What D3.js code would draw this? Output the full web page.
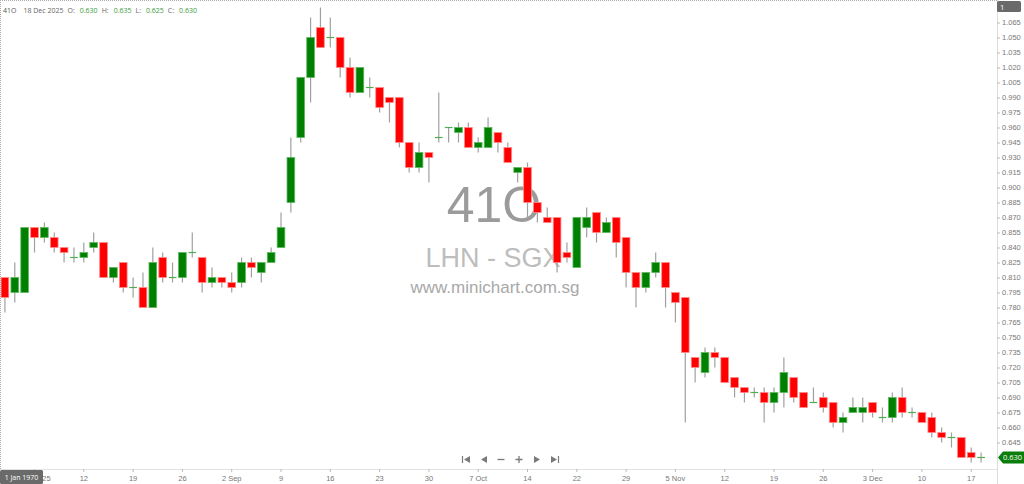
<!DOCTYPE html>
<html>
<head>
<meta charset="utf-8">
<script src="https://cdn.jsdelivr.net/npm/d3@7"></script>
<style>
  body { margin: 0; background: #fff; }
  svg { display: block; font-family: 'Open Sans', 'DejaVu Sans', sans-serif; }
  .axis text { fill: #777; font-size: 7.5px; }
  .axis line { stroke: #bbb; }
  .axis path { display: none; }
</style>
</head>
<body>
<div id="chart"></div>
<script>
// Trading days (SGX), 31 Jul 2025 - 18 Dec 2025
let dates = [
  '2025-07-31','2025-08-01','2025-08-04','2025-08-05','2025-08-06','2025-08-07','2025-08-08','2025-08-11','2025-08-12','2025-08-13',
  '2025-08-14','2025-08-15','2025-08-18','2025-08-19','2025-08-20','2025-08-21','2025-08-22','2025-08-25','2025-08-26','2025-08-27',
  '2025-08-28','2025-08-29','2025-09-01','2025-09-02','2025-09-03','2025-09-04','2025-09-05','2025-09-08','2025-09-09','2025-09-10',
  '2025-09-11','2025-09-12','2025-09-15','2025-09-16','2025-09-17','2025-09-18','2025-09-19','2025-09-22','2025-09-23','2025-09-24',
  '2025-09-25','2025-09-26','2025-09-29','2025-09-30','2025-10-01','2025-10-02','2025-10-03','2025-10-06','2025-10-07','2025-10-08',
  '2025-10-09','2025-10-10','2025-10-13','2025-10-14','2025-10-15','2025-10-16','2025-10-17','2025-10-21','2025-10-22','2025-10-23',
  '2025-10-24','2025-10-27','2025-10-28','2025-10-29','2025-10-30','2025-10-31','2025-11-03','2025-11-04','2025-11-05','2025-11-06',
  '2025-11-07','2025-11-10','2025-11-11','2025-11-12','2025-11-13','2025-11-14','2025-11-17','2025-11-18','2025-11-19','2025-11-20',
  '2025-11-21','2025-11-24','2025-11-25','2025-11-26','2025-11-27','2025-11-28','2025-12-01','2025-12-02','2025-12-03','2025-12-04',
  '2025-12-05','2025-12-08','2025-12-09','2025-12-10','2025-12-11','2025-12-12','2025-12-15','2025-12-16','2025-12-17','2025-12-18'
];

let opens = [
  0.810,0.795,0.795,0.860,0.850,0.850,0.840,0.830,0.830,0.840,
  0.845,0.810,0.825,0.800,0.800,0.780,0.830,0.810,0.810,0.835,
  0.830,0.805,0.810,0.805,0.805,0.825,0.815,0.825,0.840,0.885,
  0.950,1.010,1.060,1.050,1.050,1.020,0.995,1.000,1.000,0.990,
  0.990,0.945,0.920,0.935,0.950,0.960,0.955,0.960,0.940,0.940,
  0.955,0.940,0.915,0.920,0.885,0.870,0.870,0.835,0.820,0.860,
  0.875,0.855,0.870,0.850,0.815,0.800,0.815,0.825,0.795,0.790,
  0.730,0.715,0.735,0.730,0.710,0.700,0.695,0.695,0.685,0.695,
  0.710,0.695,0.685,0.690,0.685,0.665,0.675,0.675,0.685,0.670,
  0.670,0.690,0.675,0.675,0.670,0.655,0.650,0.650,0.635,0.630
];
let highs = [
  0.810,0.825,0.860,0.860,0.865,0.855,0.840,0.840,0.845,0.855,
  0.845,0.820,0.825,0.810,0.815,0.840,0.835,0.825,0.835,0.855,
  0.830,0.820,0.810,0.815,0.830,0.830,0.825,0.840,0.875,0.950,
  1.010,1.070,1.080,1.070,1.050,1.030,1.020,1.010,1.000,0.990,
  0.990,0.945,0.945,0.935,0.995,0.960,0.965,0.965,0.950,0.970,
  0.955,0.945,0.920,0.925,0.885,0.880,0.870,0.845,0.870,0.880,
  0.875,0.870,0.870,0.850,0.815,0.815,0.835,0.825,0.795,0.790,
  0.730,0.740,0.740,0.730,0.710,0.700,0.700,0.700,0.700,0.730,
  0.710,0.695,0.700,0.695,0.685,0.675,0.690,0.690,0.685,0.680,
  0.695,0.700,0.680,0.675,0.675,0.660,0.655,0.650,0.640,0.635
];
let lows = [
  0.775,0.785,0.795,0.835,0.845,0.835,0.825,0.825,0.825,0.835,
  0.810,0.805,0.795,0.790,0.780,0.780,0.805,0.805,0.805,0.830,
  0.795,0.800,0.800,0.795,0.800,0.810,0.805,0.825,0.840,0.875,
  0.945,0.985,1.040,1.040,1.010,0.990,0.995,0.990,0.975,0.965,
  0.940,0.915,0.915,0.905,0.945,0.945,0.945,0.940,0.935,0.940,
  0.935,0.925,0.905,0.870,0.865,0.865,0.815,0.825,0.820,0.850,
  0.845,0.855,0.830,0.800,0.780,0.795,0.810,0.780,0.765,0.665,
  0.705,0.710,0.720,0.705,0.690,0.685,0.690,0.665,0.675,0.680,
  0.685,0.680,0.685,0.675,0.660,0.655,0.675,0.665,0.670,0.665,
  0.665,0.670,0.670,0.665,0.650,0.645,0.640,0.630,0.625,0.625
];
let closes = [
  0.790,0.810,0.860,0.850,0.860,0.840,0.835,0.830,0.835,0.845,
  0.810,0.820,0.800,0.800,0.780,0.825,0.810,0.810,0.835,0.835,
  0.805,0.810,0.805,0.800,0.825,0.820,0.825,0.835,0.860,0.930,
  1.010,1.050,1.040,1.050,1.020,0.995,1.020,1.000,0.980,0.985,
  0.945,0.920,0.935,0.930,0.950,0.960,0.960,0.940,0.945,0.960,
  0.945,0.925,0.920,0.885,0.875,0.865,0.825,0.830,0.870,0.870,
  0.855,0.865,0.845,0.815,0.800,0.815,0.825,0.800,0.785,0.735,
  0.720,0.735,0.730,0.705,0.700,0.695,0.695,0.685,0.695,0.715,
  0.690,0.680,0.685,0.680,0.665,0.670,0.680,0.680,0.675,0.670,
  0.690,0.675,0.675,0.665,0.655,0.650,0.650,0.630,0.630,0.630
];

// Axis labels
let yTickLabels = ['0.645','0.660','0.675','0.690','0.705','0.720','0.735','0.750','0.765','0.780',
  '0.795','0.810','0.825','0.840','0.855','0.870','0.885','0.900','0.915','0.930',
  '0.945','0.960','0.975','0.990','1.005','1.020','1.035','1.050','1.065'];
let xTickDates = ['2025-08-05','2025-08-12','2025-08-19','2025-08-26','2025-09-02','2025-09-09','2025-09-16',
  '2025-09-23','2025-09-30','2025-10-07','2025-10-14','2025-10-22','2025-10-29','2025-11-05','2025-11-12',
  '2025-11-19','2025-11-26','2025-12-03','2025-12-10','2025-12-17'];
let xTickLabels = ['Aug 2025','12','19','26','2 Sep','9','16','23','30','7 Oct','14','22','29','5 Nov','12',
  '19','26','3 Dec','10','17'];

function createChart() {
    let width = 1024, height = 484;
    let plotRight = 997, plotBottom = 469;
    let upColor = '#008000', downColor = '#ff0000';

    let svg = d3.select('#chart')
        .append('svg')
            .attr('width', width)
            .attr('height', height);

    // Scales
    let scX = d3.scaleBand()
        .domain(dates)
        .range([0, 986])
        .paddingInner(0.22)
        .paddingOuter(0.11);
    let scY = d3.scaleLinear()
        .domain([0.6195, 1.0875])
        .range([468, 0]);

    // Watermark
    let wm = svg.append('g').attr('text-anchor', 'middle').attr('font-family', "'Liberation Sans', Arial, sans-serif");
    wm.append('text')
        .attr('x', 494).attr('y', 222)
        .attr('font-size', 50)
        .attr('fill', '#9b9b9b')
        .text('41O');
    wm.append('text')
        .attr('x', 493).attr('y', 267)
        .attr('font-size', 27)
        .attr('fill', '#bdbdbd')
        .text('LHN - SGX');
    wm.append('text')
        .attr('x', 495).attr('y', 293)
        .attr('font-size', 17)
        .attr('fill', '#a8a8a8')
        .text('www.minichart.com.sg');

    // Frame lines
    svg.append('line')
        .attr('x1', 0).attr('x2', plotRight).attr('y1', 0.5).attr('y2', 0.5)
        .attr('stroke', '#aaa').attr('stroke-dasharray', '1,1');
    svg.append('line')
        .attr('x1', 0.5).attr('x2', 0.5).attr('y1', 0).attr('y2', plotBottom)
        .attr('stroke', '#aaa').attr('stroke-dasharray', '1,1');
    svg.append('line')
        .attr('x1', plotRight + 0.5).attr('x2', plotRight + 0.5).attr('y1', 0).attr('y2', height)
        .attr('stroke', '#ddd');
    svg.append('line')
        .attr('x1', 0).attr('x2', plotRight).attr('y1', plotBottom + 0.5).attr('y2', plotBottom + 0.5)
        .attr('stroke', '#e2e2e2');

    // Axes
    let yAxis = d3.axisRight(scY)
        .tickValues(yTickLabels.map(Number))
        .tickFormat(d3.format('.3f'))
        .tickSize(3)
        .tickPadding(2);
    svg.append('g')
        .attr('class', 'axis y-axis')
        .attr('transform', `translate(${plotRight},0)`)
        .call(yAxis);

    let xAxis = d3.axisBottom(scX)
        .tickValues(xTickDates)
        .tickFormat((d, i) => xTickLabels[i])
        .tickSize(3)
        .tickPadding(4);
    svg.append('g')
        .attr('class', 'axis x-axis')
        .attr('transform', `translate(0,${plotBottom})`)
        .call(xAxis);

    // Candles
    let bars = dates.map((d, i) => ({date: d, o: opens[i], h: highs[i], l: lows[i], c: closes[i]}));
    let bw = scX.bandwidth();
    let cx = d => scX(d.date) + bw / 2;

    let candles = svg.append('g').attr('class', 'candles');
    candles.selectAll('line.wick')
        .data(bars)
        .enter()
        .append('line')
            .attr('class', 'wick')
            .attr('x1', cx).attr('x2', cx)
            .attr('y1', d => scY(d.h))
            .attr('y2', d => scY(d.l))
            .attr('stroke', '#a0a0a0')
            .attr('stroke-width', 1.2);
    candles.selectAll('rect.body')
        .data(bars.filter(d => d.o !== d.c))
        .enter()
        .append('rect')
            .attr('class', 'body')
            .attr('x', d => scX(d.date))
            .attr('width', bw)
            .attr('y', d => scY(Math.max(d.o, d.c)))
            .attr('height', d => scY(Math.min(d.o, d.c)) - scY(Math.max(d.o, d.c)))
            .attr('fill', d => d.c > d.o ? upColor : downColor)
            .attr('stroke', d => d.c > d.o ? '#5fb85f' : '#ff8a8a')
            .attr('stroke-width', 0.8);
    candles.selectAll('line.doji')
        .data(bars.filter(d => d.o === d.c))
        .enter()
        .append('line')
            .attr('class', 'doji')
            .attr('x1', d => scX(d.date)).attr('x2', d => scX(d.date) + bw)
            .attr('y1', d => scY(d.c)).attr('y2', d => scY(d.c))
            .attr('stroke', '#4fae4f')
            .attr('stroke-width', 1.2);

    // Header with last bar values, laid out left to right
    let last = bars[bars.length - 1];
    let fmt = d3.format('.3f');
    let header = [
        {t: '41O', c: '#555', gap: 7},
        {t: '18 Dec 2025', c: '#666', gap: 4},
        {t: 'O:', c: '#666', gap: 5},
        {t: fmt(last.o), c: '#3d9b3d', gap: 4},
        {t: 'H:', c: '#666', gap: 5},
        {t: fmt(last.h), c: '#3d9b3d', gap: 4},
        {t: 'L:', c: '#666', gap: 5},
        {t: fmt(last.l), c: '#3d9b3d', gap: 4},
        {t: 'C:', c: '#666', gap: 5},
        {t: fmt(last.c), c: '#3d9b3d', gap: 0}
    ];
    let hx = 3;
    header.forEach(h => {
        let t = svg.append('text')
            .attr('class', 'header')
            .attr('x', hx)
            .attr('y', 13)
            .attr('font-size', 7)
            .attr('fill', h.c)
            .text(h.t);
        hx += t.node().getComputedTextLength() + h.gap;
    });

    // Top-right "1" badge
    svg.append('rect')
        .attr('x', 997).attr('y', 1).attr('width', 24).attr('height', 11).attr('rx', 1.5)
        .attr('fill', '#6a6a6a');
    svg.append('text')
        .attr('x', 1000).attr('y', 9.5)
        .attr('font-size', 7.5).attr('fill', '#fff')
        .text('1');

    // Last price tag
    let ly = scY(last.c);
    svg.append('path')
        .attr('d', `M998,${ly} L1003,${ly - 6} L1024,${ly - 6} L1024,${ly + 6} L1003,${ly + 6} Z`)
        .attr('fill', '#0a7d0a');
    svg.append('text')
        .attr('x', 1003).attr('y', ly + 2.8)
        .attr('font-size', 7.5).attr('fill', '#fff')
        .text(fmt(last.c));

    // Bottom-left date badge
    svg.append('rect')
        .attr('x', 0).attr('y', 470).attr('width', 43).attr('height', 14).attr('rx', 1.5)
        .attr('fill', '#6a6a6a');
    svg.append('text')
        .attr('x', 21.5).attr('y', 479.5)
        .attr('text-anchor', 'middle')
        .attr('font-size', 7).attr('fill', '#fff')
        .text('1 Jan 1970');

    // Navigation buttons
    let nav = svg.append('g').attr('fill', '#7a7a7a').attr('stroke', '#7a7a7a');
    let ny = 459.5;
    nav.append('path').attr('d', `M462.5,${ny - 3.5} V${ny + 3.5}`).attr('stroke-width', 1.2);
    nav.append('path').attr('d', `M470,${ny - 3.5} L464,${ny} L470,${ny + 3.5} Z`).attr('stroke', 'none');
    nav.append('path').attr('d', `M487,${ny - 3.5} L481,${ny} L487,${ny + 3.5} Z`).attr('stroke', 'none');
    nav.append('path').attr('d', `M497.5,${ny} H504.5`).attr('stroke-width', 1.3);
    nav.append('path').attr('d', `M515.5,${ny} H522.5 M519,${ny - 3.5} V${ny + 3.5}`).attr('stroke-width', 1.3);
    nav.append('path').attr('d', `M534,${ny - 3.5} L540,${ny} L534,${ny + 3.5} Z`).attr('stroke', 'none');
    nav.append('path').attr('d', `M551,${ny - 3.5} L557,${ny} L551,${ny + 3.5} Z`).attr('stroke', 'none');
    nav.append('path').attr('d', `M558.5,${ny - 3.5} V${ny + 3.5}`).attr('stroke-width', 1.2);
}

createChart();
</script>
</body>
</html>
